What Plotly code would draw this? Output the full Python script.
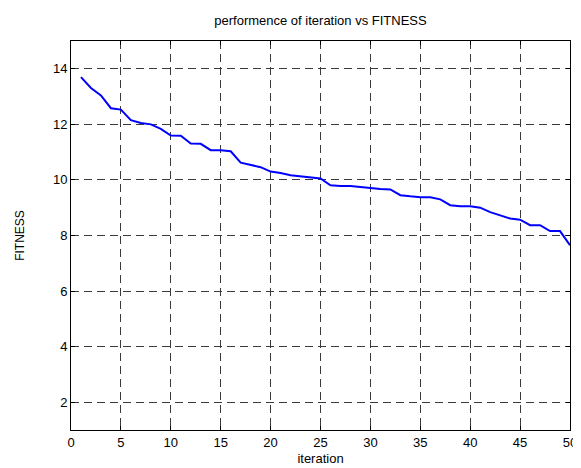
import plotly.graph_objects as go

iterations = list(range(1, 51))
fitness = [13.70, 13.31, 13.04, 12.58, 12.53, 12.15, 12.05, 12.00, 11.84, 11.60,
           11.59, 11.31, 11.30, 11.07, 11.07, 11.03, 10.62, 10.54, 10.46, 10.30,
           10.25, 10.17, 10.13, 10.09, 10.05, 9.81, 9.78, 9.78, 9.74, 9.70,
           9.67, 9.66, 9.45, 9.41, 9.38, 9.38, 9.30, 9.09, 9.05, 9.05,
           9.00, 8.84, 8.72, 8.61, 8.57, 8.37, 8.37, 8.16, 8.16, 7.65]

x_ticks = [0, 5, 10, 15, 20, 25, 30, 35, 40, 45, 50]
y_ticks = [2, 4, 6, 8, 10, 12, 14]

title_text = "performence of iteration vs FITNESS"
x_title = "iteration"
y_title = "FITNESS"

FONT = "Liberation Sans, Arial, Helvetica, sans-serif"

fig = go.Figure()
fig.add_trace(go.Scatter(x=iterations, y=fitness, mode="lines",
                         line=dict(color="rgb(0,0,255)", width=2),
                         showlegend=False))

axis_common = dict(
    showline=True, linecolor="black", linewidth=1, mirror="allticks",
    ticks="inside", ticklen=4, tickcolor="black", tickwidth=1,
    showgrid=True, gridcolor="#3a3a3a", gridwidth=1, griddash="8px,5px",
    zeroline=False, tickfont=dict(family=FONT, size=13, color="black"),
)

fig.update_xaxes(range=[0, 50], tickvals=x_ticks,
                 title=dict(text=x_title, font=dict(family=FONT, size=13, color="black"), standoff=5),
                 **axis_common)
fig.update_yaxes(range=[1, 15], tickvals=y_ticks,
                 title=dict(text=y_title, font=dict(family=FONT, size=12, color="black"), standoff=25),
                 **axis_common)

fig.update_layout(
    width=581, height=468,
    margin=dict(l=63, r=14, t=33, b=38),
    paper_bgcolor="white", plot_bgcolor="white",
    font=dict(family=FONT, size=13, color="black"),
    title=dict(text=title_text, x=0.5, xref="paper", y=1 - 12 / 468, yref="container",
               xanchor="center", yanchor="middle",
               font=dict(family=FONT, size=13, color="black")),
)

fig.write_html("out.html")
